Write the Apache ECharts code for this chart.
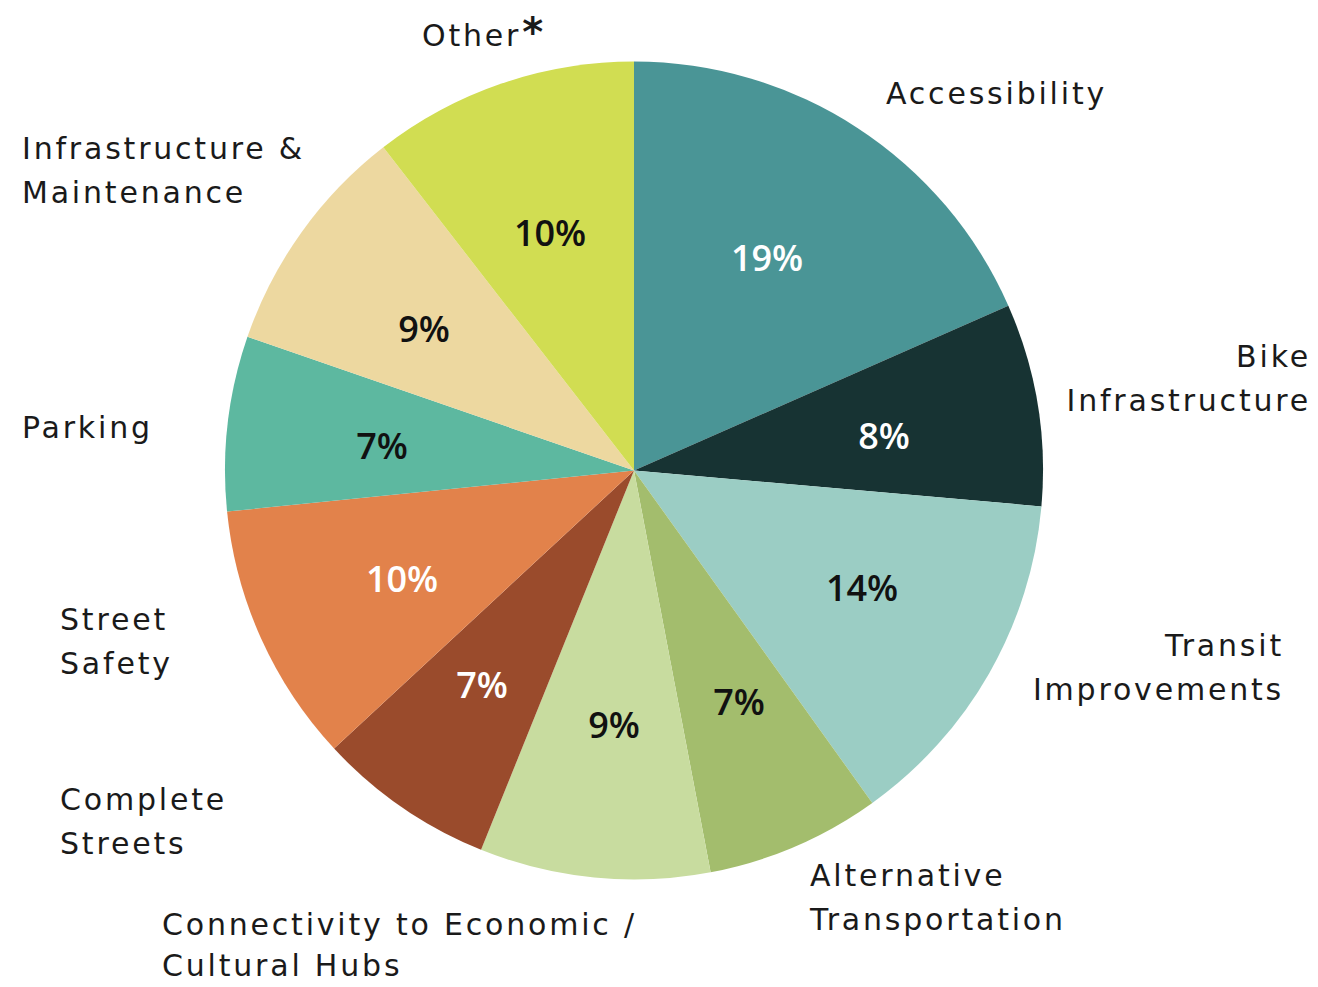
<!DOCTYPE html>
<html>
<head>
<meta charset="utf-8">
<script src="https://cdn.jsdelivr.net/npm/echarts@6/dist/echarts.min.js"></script>
<style>
html,body{margin:0;padding:0;background:#fff;}
#chart{width:1318px;height:987px;}
#chart text{letter-spacing:2.8px;}
#chart text[style*="36px"]{letter-spacing:0;}
</style>
</head>
<body>
<div id="chart"></div>
<script>
// Data (clockwise from 12 o'clock)
var categories = ['Accessibility', 'Bike\nInfrastructure', 'Transit\nImprovements', 'Alternative\nTransportation',
  'Connectivity to Economic /\nCultural Hubs', 'Complete\nStreets', 'Street\nSafety', 'Parking',
  'Infrastructure &\nMaintenance', 'Other'];
var values = [18.4, 8.0, 13.7, 6.9, 9.1, 7.0, 10.3, 6.9, 9.2, 10.5];
var pctLabels = ['19%', '8%', '14%', '7%', '9%', '7%', '10%', '7%', '9%', '10%'];

// Styles
var colors = ['#4a9596', '#173333', '#9bcdc4', '#a3bd6d', '#c8dc9f', '#9a4b2c', '#e2824b', '#5db8a0', '#edd8a0', '#d1dd52'];
var pctColors = ['#ffffff', '#ffffff', '#111111', '#111111', '#111111', '#ffffff', '#ffffff', '#111111', '#111111', '#111111'];
// outer label anchor: [x, y(top), align]
var outerPos = [
  [886, 71, 'left'],
  [1311, 334, 'right'],
  [1284, 623, 'right'],
  [810, 853, 'left'],
  [162, 904, 'left'],
  [60, 777, 'left'],
  [60, 597, 'left'],
  [22, 405, 'left'],
  [22, 126, 'left'],
  [422, 13, 'left']
];
// inner percentage label centres (hand-placed in the original)
var innerPos = [
  [767, 257], [884, 435], [862, 587], [739, 701], [614, 724],
  [482, 684], [402, 578], [382, 445], [424, 328], [550, 232]
];

var font = '"DejaVu Sans", sans-serif';
var pctFont = '"Open Sans", sans-serif';
var mainData = categories.map(function (c, i) {
  var d = { name: c, value: values[i], itemStyle: { color: colors[i] } };
  if (i === 4) d.label = { lineHeight: 41 };
  return d;
});
var pctData = categories.map(function (c, i) {
  return { name: c, value: values[i], label: { color: pctColors[i] } };
});

var chart = echarts.init(document.getElementById('chart'), null, { renderer: 'svg' });
chart.setOption({
  animation: false,
  series: [
    {
      type: 'pie',
      center: [634, 470.5],
      radius: [0, 409],
      startAngle: 90,
      clockwise: true,
      silent: true,
      data: mainData,
      itemStyle: { borderWidth: 0 },
      labelLine: { show: false },
      label: {
        show: true,
        position: 'outside',
        fontFamily: font,
        fontSize: 30,
        fontWeight: 'normal',
        lineHeight: 44,
        color: '#1a1a1a',
        formatter: function (p) {
          return p.dataIndex === 9 ? p.name + '{sup|*}' : p.name;
        },
        rich: {
          sup: { fontFamily: font, fontSize: 40, fontWeight: 'bold', color: '#1a1a1a', padding: [0, 0, 6, 15], lineHeight: 44 }
        }
      },
      labelLayout: function (params) {
        var p = outerPos[params.dataIndex];
        return { x: p[0], y: p[1], align: p[2], verticalAlign: 'top', hideOverlap: false };
      }
    },
    {
      type: 'pie',
      center: [634, 470.5],
      radius: [0, 409],
      startAngle: 90,
      clockwise: true,
      silent: true,
      data: pctData,
      itemStyle: { color: 'rgba(0,0,0,0)', borderWidth: 0 },
      labelLine: { show: false },
      label: {
        show: true,
        position: 'inside',
        fontFamily: pctFont,
        fontSize: 36,
        fontWeight: 600,
        formatter: function (p) { return pctLabels[p.dataIndex]; }
      },
      labelLayout: function (params) {
        var p = innerPos[params.dataIndex];
        return { x: p[0], y: p[1], align: 'center', verticalAlign: 'middle', hideOverlap: false };
      }
    }
  ]
});
</script>
</body>
</html>
